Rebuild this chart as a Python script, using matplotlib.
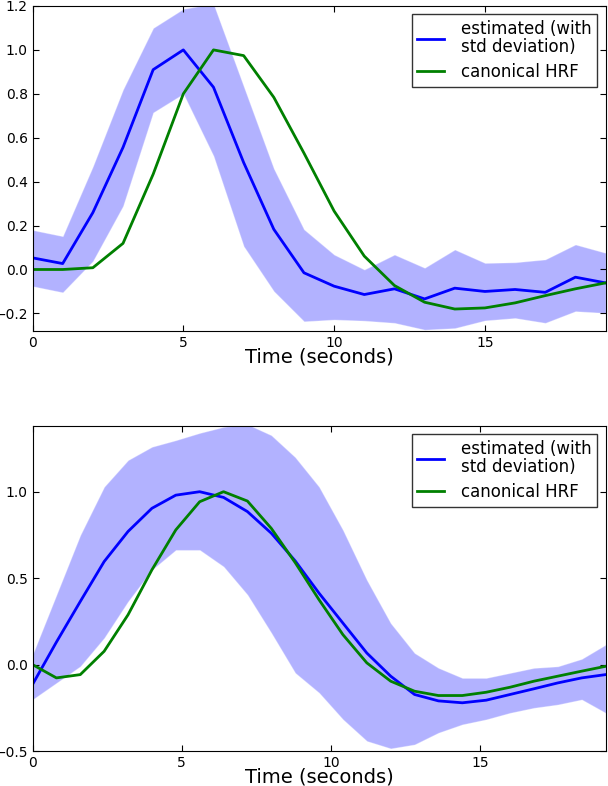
"""
估计的 HRF 与标准 HRF 对比图（两个子图）
"""

import matplotlib
matplotlib.use("Agg")
import matplotlib.pyplot as plt

# ---- 上图：整数秒采样 ----
time_top = [0, 1, 2, 3, 4, 5, 6, 7, 8, 9, 10, 11, 12, 13, 14, 15, 16, 17, 18, 19]
est_top = [0.053, 0.027, 0.259, 0.556, 0.91, 1.0, 0.83, 0.487, 0.183, -0.015,
           -0.076, -0.114, -0.088, -0.134, -0.085, -0.10, -0.091, -0.104, -0.035, -0.061]
upper_top = [0.18, 0.152, 0.47, 0.82, 1.10, 1.187, 1.21, 0.835, 0.46, 0.183,
             0.068, 0.0, 0.068, 0.008, 0.091, 0.03, 0.033, 0.046, 0.114, 0.076]
lower_top = [-0.076, -0.104, 0.038, 0.289, 0.715, 0.80, 0.517, 0.106, -0.099, -0.236,
             -0.228, -0.233, -0.243, -0.274, -0.267, -0.232, -0.221, -0.243, -0.19, -0.198]
hrf_top = [0.0, 0.0, 0.008, 0.119, 0.434, 0.80, 1.0, 0.974, 0.784, 0.53,
           0.266, 0.061, -0.073, -0.149, -0.18, -0.175, -0.152, -0.119, -0.088, -0.061]

# ---- 下图：0.8 秒采样 ----
time_bot = [0.0, 0.8, 1.6, 2.4, 3.2, 4.0, 4.8, 5.6, 6.4, 7.2, 8.0, 8.8, 9.6,
            10.4, 11.2, 12.0, 12.8, 13.6, 14.4, 15.2, 16.0, 16.8, 17.6, 18.4, 19.2]
est_bot = [-0.115, 0.13, 0.365, 0.596, 0.77, 0.904, 0.98, 1.0, 0.967, 0.885, 0.76, 0.60, 0.413,
           0.24, 0.067, -0.067, -0.173, -0.21, -0.221, -0.206, -0.173, -0.14, -0.106, -0.077, -0.058]
upper_bot = [0.058, 0.404, 0.75, 1.029, 1.183, 1.26, 1.298, 1.34, 1.375, 1.39, 1.327, 1.20, 1.029,
             0.779, 0.49, 0.24, 0.067, -0.019, -0.077, -0.077, -0.048, -0.019, -0.01, 0.033, 0.115]
lower_bot = [-0.202, -0.106, -0.01, 0.154, 0.365, 0.548, 0.663, 0.663, 0.567, 0.404, 0.183, -0.048, -0.163,
             -0.317, -0.442, -0.485, -0.462, -0.394, -0.346, -0.317, -0.279, -0.25, -0.231, -0.202, -0.279]
hrf_bot = [0.0, -0.077, -0.058, 0.077, 0.288, 0.548, 0.779, 0.942, 1.0, 0.946, 0.788, 0.59, 0.375,
           0.173, 0.01, -0.096, -0.154, -0.179, -0.179, -0.16, -0.131, -0.096, -0.067, -0.038, -0.01]

est_label = "estimated (with\nstd deviation)"
hrf_label = "canonical HRF"


def draw_panel(ax, t, est, lower, upper, hrf, xlim, ylim, yticks):
    ax.fill_between(t, lower, upper, facecolor="blue", alpha=0.3,
                    edgecolor="white", linewidth=0.8)
    ax.plot(t, est, color="blue", lw=2, label=est_label)
    ax.plot(t, hrf, color="green", lw=2, label=hrf_label)
    ax.set_xlim(*xlim)
    ax.set_ylim(*ylim)
    ax.set_xticks([0, 5, 10, 15])
    ax.set_yticks(yticks)
    ax.tick_params(direction="in", top=True, right=True, labelsize=10, length=4)
    ax.set_xlabel("Time (seconds)", fontsize=14, labelpad=-2)
    leg = ax.legend(loc="upper right", fontsize=12, fancybox=False,
                    handlelength=1.6, handletextpad=1.0, borderaxespad=0.5,
                    labelspacing=0.4, borderpad=0.35)
    for txt in leg.get_texts():
        txt.set_linespacing(1.0)
    leg.get_frame().set_edgecolor("black")
    leg.get_frame().set_linewidth(1.0)


fig = plt.figure(figsize=(6.08, 7.86), dpi=100)
ax1 = fig.add_axes([0.0535, 0.5789, 0.9425, 0.4135])
ax2 = fig.add_axes([0.0535, 0.0445, 0.9425, 0.4135])

draw_panel(ax1, time_top, est_top, lower_top, upper_top, hrf_top,
           (0, 19), (-0.28, 1.2), [-0.2, 0.0, 0.2, 0.4, 0.6, 0.8, 1.0, 1.2])
draw_panel(ax2, time_bot, est_bot, lower_bot, upper_bot, hrf_bot,
           (0, 19.2), (-0.5, 1.38), [-0.5, 0.0, 0.5, 1.0])

fig.savefig("out.png", dpi=100)
